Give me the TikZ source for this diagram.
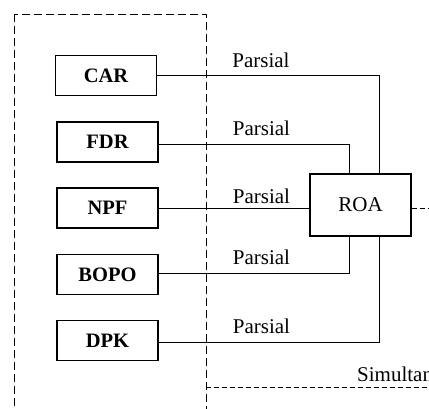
\documentclass[tikz,border=0pt]{standalone}
\usepackage{fontspec}
\setmainfont{Liberation Serif}
\begin{document}
\begin{tikzpicture}[x=1pt,y=-1pt,
  var/.style={draw,line width=1.1pt,minimum width=101pt,minimum height=40pt,inner sep=0pt,font=\fontsize{20.5}{24}\selectfont\bfseries},
  dep/.style={draw,line width=1.1pt,minimum width=101pt,minimum height=62pt,inner sep=0pt,font=\fontsize{21}{24}\selectfont},
  lab/.style={anchor=base,inner sep=0pt,font=\fontsize{21}{24}\selectfont},
  conn/.style={line width=1pt},
  bigdash/.style={line width=1pt,dash pattern=on 8pt off 4pt},
  smalldash/.style={line width=1pt,dash pattern=on 5pt off 3pt}]
\useasboundingbox (0,0) rectangle (429,408);
\clip (0,0) rectangle (429,408);
\fill[white] (0,0) rectangle (429,408);
% dashed frames
\draw[bigdash] (14,14) rectangle (206,430);
\coordinate (fr) at (206,387);
\coordinate (frend) at (440,387);
\draw[smalldash] (fr) -- (frend);
% boxes
\node[var] (car) at (106,75.5) {CAR};
\node[var] (fdr) at (107.5,142) {FDR};
\node[var] (npf) at (107.5,208) {NPF};
\node[var] (bopo) at (107.5,274.5) {BOPO};
\node[var] (dpk) at (107.5,340.5) {DPK};
\node[dep] (roa) at (360.5,205) {ROA};
% connectors
\draw[conn] (car.east) -| ([xshift=18.5pt]roa.north);
\draw[conn] ([yshift=-2pt]fdr.east) -| ([xshift=-11.5pt]roa.north);
\draw[conn] (npf.east) -- (npf.east -| roa.west);
\draw[conn] ([yshift=1.5pt]bopo.east) -| ([xshift=-11.5pt]roa.south);
\draw[conn] ([yshift=-1.5pt]dpk.east) -| ([xshift=18.5pt]roa.south);
\coordinate (roaout) at (440,208);
\draw[smalldash] ([yshift=-3pt]roa.east) -- (roaout);
% labels
\node[lab] (p1) at (261,67) {Parsial};
\node[lab] (p2) at (261.5,135) {Parsial};
\node[lab] (p3) at (261.5,203) {Parsial};
\node[lab] (p4) at (261.5,264) {Parsial};
\node[lab] (p5) at (261.5,333) {Parsial};
\node[lab,anchor=base west] (sim) at (357,381) {Simultan};
\end{tikzpicture}
\end{document}
